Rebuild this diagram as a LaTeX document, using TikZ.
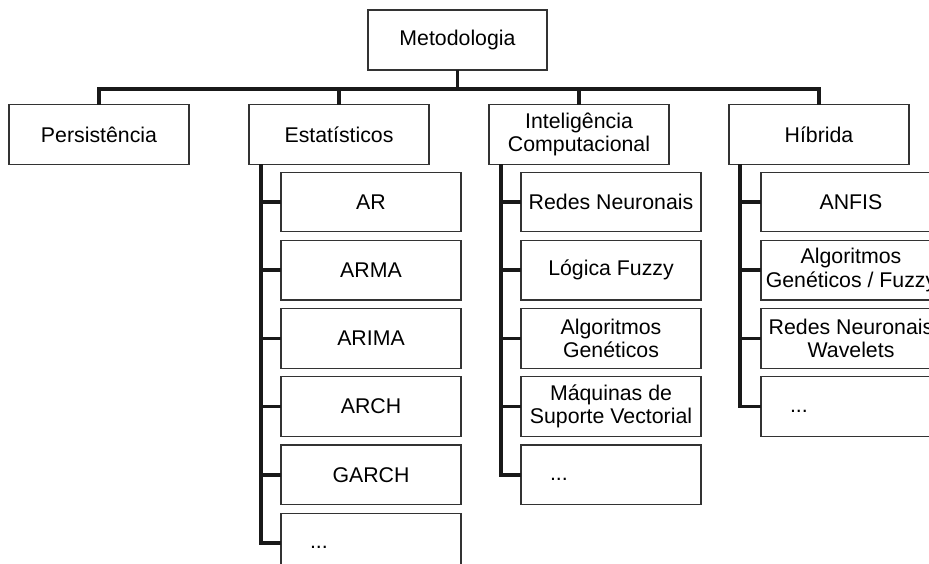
\documentclass[tikz,border=0pt]{standalone}
\usepackage{fontspec}
\setmainfont{Liberation Sans}
\usetikzlibrary{positioning}

\begin{document}
\begin{tikzpicture}[
    x=1pt, y=1pt,
    node distance=8.7pt,
    box/.style={rectangle, draw=black!80, line width=1.2pt, outer sep=0pt, inner xsep=0pt, minimum width=180pt, minimum height=59.5pt, align=center, font=\fontsize{21.3}{23.5}\selectfont},
    etc/.style={box, align=left, text width=122pt, inner xsep=29pt, text height=11pt},
    link/.style={line width=3.6pt, black!90}
]
    \useasboundingbox (0,0) rectangle (929,564);
    \clip (0,0) rectangle (929,564);

    % Root
    \node[box, minimum width=179pt, minimum height=60pt] (meto) at (457.5,524) {Metodologia};

    % First level
    \node[box] (pers) at (99,429.5) {Persistência};
    \node[box, right=60pt of pers] (estat) {Estatísticos};
    \node[box, right=60pt of estat] (intel) {Inteligência\\Computacional};
    \node[box, right=60pt of intel] (hib) {Híbrida};

    % Estatisticos
    \node[box, below right=8pt and 32pt of estat.south west, anchor=north west] (ar) {AR};
    \node[box, below=of ar] (arma) {ARMA};
    \node[box, below=of arma] (arima) {ARIMA};
    \node[box, below=of arima] (arch) {ARCH};
    \node[box, below=of arch] (garch) {GARCH};
    \node[etc, below=of garch] (est_etc) {...};

    % Inteligencia Computacional
    \node[box, below right=8pt and 32pt of intel.south west, anchor=north west] (rn) {Redes Neuronais};
    \node[box, below=of rn] (fuzzy) {Lógica Fuzzy};
    \node[box, below=of fuzzy] (ag) {Algoritmos\\Genéticos};
    \node[box, below=of ag] (svm) {Máquinas de\\Suporte Vectorial};
    \node[etc, below=of svm] (ic_etc) {...};

    % Hibrida
    \node[box, below right=8pt and 32pt of hib.south west, anchor=north west] (anfis) {ANFIS};
    \node[box, below=of anfis] (agfuzzy) {Algoritmos\\Genéticos / Fuzzy};
    \node[box, below=of agfuzzy] (rnwav) {Redes Neuronais\\Wavelets};
    \node[etc, below=of rnwav] (hib_etc) {...};

    % Connections
    \coordinate (bar) at (457.5,475);
    \draw[link] (meto.south) -- (meto.south |- bar);
    \draw[link] (pers.north) -- (pers.north |- bar) -- (hib.north |- bar) -- (hib.north);
    \draw[link] (estat.north) -- (estat.north |- bar);
    \draw[link] (intel.north) -- (intel.north |- bar);

    \foreach \n in {ar,arma,arima,arch,garch,est_etc}
        \draw[link] ([xshift=12pt]estat.south west) |- (\n.west);
    \foreach \n in {rn,fuzzy,ag,svm,ic_etc}
        \draw[link] ([xshift=12pt]intel.south west) |- (\n.west);
    \foreach \n in {anfis,agfuzzy,rnwav,hib_etc}
        \draw[link] ([xshift=11pt]hib.south west) |- (\n.west);
\end{tikzpicture}
\end{document}
